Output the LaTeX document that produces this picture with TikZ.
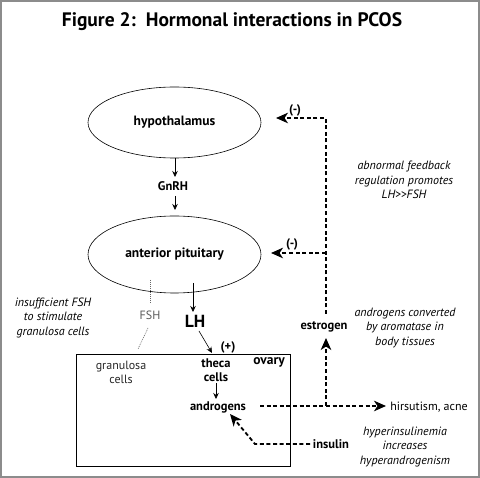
\documentclass[tikz,border=0pt]{standalone}
\usepackage{fontspec}
\setmainfont{PT Sans}
\usetikzlibrary{shapes.geometric,arrows.meta}
\begin{document}
\begin{tikzpicture}[x=1pt,y=-1pt,
  organ/.style={draw,ellipse,line width=0.6pt,inner sep=0pt,font=\fontsize{13.5}{15}\selectfont\bfseries},
  lbl/.style={inner sep=0pt,font=\fontsize{12.5}{14}\selectfont\bfseries},
  reg/.style={inner sep=0pt,font=\fontsize{12}{14}\selectfont},
  note/.style={inner sep=0pt,align=center,font=\fontsize{12}{14.5}\selectfont\itshape},
  thin/.style={line width=0.6pt,-{Stealth[length=6pt,width=5.5pt]}},
  fbk/.style={line width=1.8pt,dash pattern=on 4pt off 2.6pt,-{Stealth[length=12pt,width=10.5pt,inset=3.5pt]}},
  fshline/.style={line width=0.6pt,black!60,dash pattern=on 1pt off 1pt}]
\useasboundingbox (0,0) rectangle (480,478);
\draw[line width=2pt,gray!90] (1,1) rectangle (479,477);
% title
\node[inner sep=0pt,font=\fontsize{19.5}{21}\selectfont\bfseries] (title) at (232,22) {Figure 2:\ \ Hormonal interactions in PCOS};
% organs
\node[organ,minimum width=173pt,minimum height=71pt] (hyp) at (174.5,122.5) {hypothalamus};
\node[organ,minimum width=173pt,minimum height=77pt] (pit) at (174.5,254.5) {anterior pituitary};
\node[lbl] (gnrh) at (173,186) {GnRH};
\draw[thin] (175,158) coordinate (hypb) -- (175,177) coordinate (gnrht);
\draw[thin] (175,196) coordinate (gnrhb) -- (175,210) coordinate (pitt);
% LH / FSH
\node[inner sep=0pt,font=\fontsize{17.5}{19}\selectfont\bfseries] (lh) at (195,321) {LH};
\coordinate (lhs) at (193,283);
\coordinate (lhe) at (193,312);
\draw[thin] (lhs) -- (lhe);
\node[reg,text=black!65] (fsh) at (150,315) {FSH};
\coordinate (fsha) at (150,280);
\coordinate (fshb) at (150,304);
\draw[fshline] (fsha) -- (fshb);
\coordinate (fshc) at (148,328);
\coordinate (fshd) at (138,349);
\draw[fshline] (fshc) -- (fshd);
\node[note] (insuf) at (53,318) {insufficient FSH\\to stimulate\\granulosa cells};
% ovary
\draw[line width=0.6pt] (76,354) coordinate (ovtl) rectangle (290,466) coordinate (ovbr);
\node[inner sep=0pt,font=\fontsize{13.5}{15}\selectfont\bfseries] (ovary) at (269,362) {ovary};
\node[reg,align=center,text=black!85,font=\fontsize{12}{14}\selectfont] (gran) at (121,372) {granulosa\\cells};
\node[lbl,align=center,font=\fontsize{12.5}{14}\selectfont\bfseries] (theca) at (216,370) {theca\\cells};
\coordinate (lha) at (199,331);
\coordinate (lhb) at (212,353);
\draw[thin] (lha) -- (lhb);
\node[lbl] (plus) at (228,347) {(+)};
\node[lbl] (andr) at (218,407) {androgens};
\coordinate (tha) at (216,383);
\coordinate (thb) at (216,399);
\draw[thin] (tha) -- (thb);
% androgens -> hirsutism
\node[reg] (hirs) at (429,407) {hirsutism, acne};
\coordinate (ande) at (260,406);
\coordinate (hirw) at (386,406);
\draw[fbk] (ande) -- (hirw);
% estrogen
\node[lbl] (estr) at (324,327) {estrogen};
\coordinate (junc) at (326,406);
\coordinate (estb) at (326,338);
\draw[fbk] (junc) -- (estb);
\coordinate (estt) at (326,314);
\coordinate (fbtop) at (326,118);
\coordinate (hyptip) at (276,118);
\draw[fbk] (estt) -- (fbtop) -- (hyptip);
\coordinate (fbmid) at (326,253);
\coordinate (pittip) at (271,253);
\draw[fbk] (fbmid) -- (pittip);
\node[lbl] (m1) at (295,110) {(-)};
\node[lbl] (m2) at (292,244) {(-)};
% insulin
\node[lbl] (ins) at (331,444) {insulin};
\coordinate (insw) at (310,444);
\coordinate (insk) at (255,444);
\coordinate (instip) at (230,414);
\draw[fbk] (insw) -- (insk) -- (instip);
% notes
\node[note] (n1) at (404,180) {abnormal feedback\\regulation promotes\\LH>{}>FSH};
\node[note] (n2) at (405,328) {androgens converted\\by aromatase in\\body tissues};
\node[note] (n3) at (405,447) {hyperinsulinemia\\increases\\hyperandrogenism};
\end{tikzpicture}
\end{document}
